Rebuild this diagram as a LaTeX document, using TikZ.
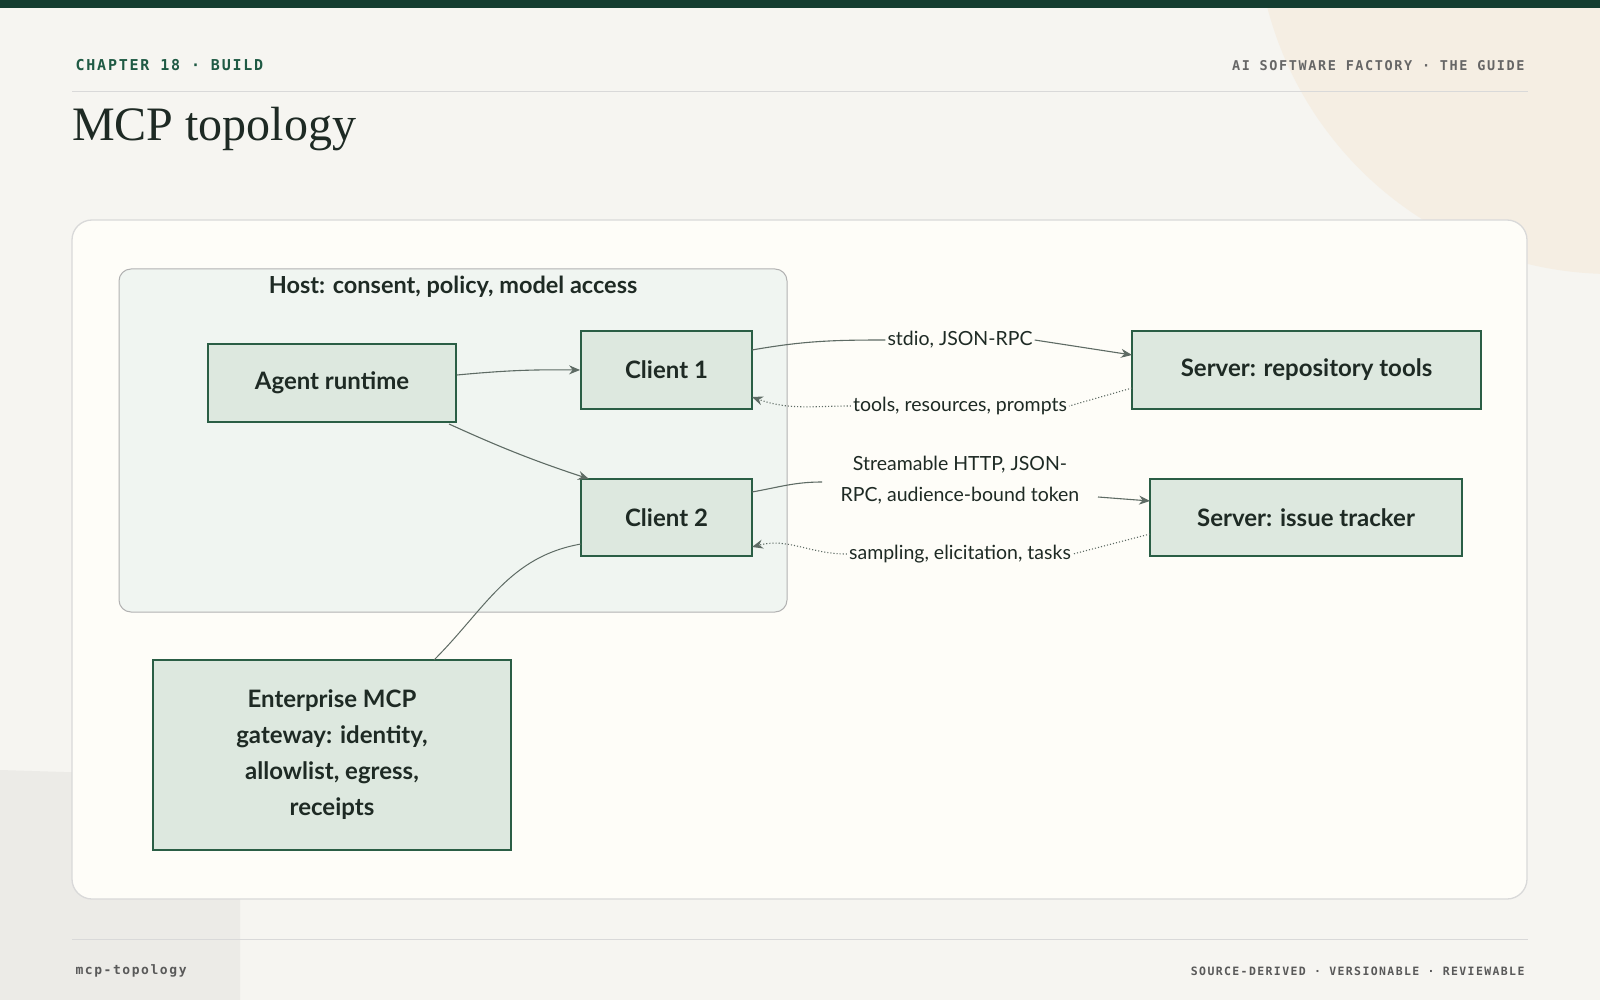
\documentclass[tikz,border=0pt]{standalone}
\usepackage{fontspec}
\setmainfont{Lato}
\newfontfamily\monof[LetterSpace=12]{DejaVu Sans Mono}
\newfontfamily\seriff{Liberation Serif}
\usetikzlibrary{arrows.meta}
\definecolor{bg}{HTML}{F6F5F1}
\definecolor{dkgreen}{HTML}{143D30}
\definecolor{hdr}{HTML}{1F5A44}
\definecolor{nodefill}{HTML}{DDE8DF}
\definecolor{nodeborder}{HTML}{2A5E45}
\definecolor{hostfill}{HTML}{F0F5F1}
\definecolor{panel}{HTML}{FEFDF8}
\definecolor{circ}{HTML}{F5EEE3}
\definecolor{edge}{HTML}{5E6B64}
\definecolor{txt}{HTML}{1E2A24}
\tikzset{
 box/.style={draw=nodeborder,line width=1.8pt,fill=nodefill,font=\fontsize{24}{36}\selectfont\bfseries,text=txt,align=center,inner sep=0},
 conn/.style={draw=edge,line width=1.1pt},
 ret/.style={draw=edge,line width=1.1pt,dotted},
 tip/.style={-{Stealth[length=11pt,width=9pt]}},
 elab/.style={font=\fontsize{19.5}{31}\selectfont,text=txt,fill=panel,inner sep=2pt,align=center},
 mono/.style={font=\monof\fontsize{15}{18}\selectfont\bfseries,text=hdr},
}
\begin{document}
\begin{tikzpicture}[x=1pt,y=-1pt]
\useasboundingbox (0,0) rectangle (1600,1000);
\fill[bg] (0,0) rectangle (1600,1000);
\begin{scope}
\clip (0,0) rectangle (1600,1000);
\fill[circ] (1612,-82) circle (356);
\fill[color=black!4!bg] (0,770) -- (160,775) to[out=0,in=90] (240,850) -- (240,1000) -- (0,1000) -- cycle;
\end{scope}
\fill[dkgreen] (0,0) rectangle (1600,8);
\node[mono,anchor=west] (ch) at (72,65) {CHAPTER 18 · BUILD};
\node[mono,anchor=east,font=\monof\fontsize{13.5}{16}\selectfont\bfseries,text=black!60] (gd) at (1528,66) {AI SOFTWARE FACTORY · THE GUIDE};
\draw[black!15,line width=0.8pt] (72,91) -- (1528,91);
\node[anchor=west,font=\seriff\fontsize{48}{56}\selectfont,text=txt,inner sep=0] (title) at (72,129) {MCP topology};
\draw[draw=black!15,line width=1.3pt,fill=panel,rounded corners=20pt] (72,220) rectangle (1527,899);
\draw[draw=black!30,line width=1pt,fill=hostfill,rounded corners=12pt] (119,269) rectangle (787,612);
\node[font=\fontsize{23.5}{28}\selectfont\bfseries,text=txt] (hostl) at (453,287) {Host: consent, policy, model access};
\node[box,minimum width=248pt,minimum height=78pt] (agent) at (332,383) {Agent runtime};
\node[box,minimum width=171pt,minimum height=78pt] (c1) at (666.5,370) {Client 1};
\node[box,minimum width=171pt,minimum height=77pt] (c2) at (666.5,517.5) {Client 2};
\node[box,minimum width=349pt,minimum height=78pt] (s1) at (1306.5,370) {Server: repository tools};
\node[box,minimum width=312pt,minimum height=77pt] (s2) at (1306,517.5) {Server: issue tracker};
\node[box,minimum width=358pt,minimum height=190pt] (gw) at (332,755) {Enterprise MCP\\gateway: identity,\\allowlist, egress,\\receipts};
\draw[conn,tip] (agent.east) ++(0,-8) to[bend left=3] (c1.west);
\draw[conn,tip] (449,424) to[bend left=-3] (589,479);
\node[elab,fill=none] (l1) at (960,340) {stdio, JSON-RPC};
\draw[conn] (752,350) to[out=10,in=180] (l1.west);
\draw[conn,tip] (l1.east) -- (1132,355);
\node[elab] (l2) at (960,406) {tools, resources, prompts};
\draw[ret] (1132,388) -- (l2.east);
\draw[ret,tip] (l2.west) to[out=180,in=-20] (752,397);
\node[elab] (l3) at (960,480) {Streamable HTTP, JSON-\\RPC, audience-bound token};
\draw[conn] (752,492) to[out=10,in=180] (822,482);
\draw[conn,tip] (1098,497) -- (1150,501);
\node[elab] (l4) at (960,554) {sampling, elicitation, tasks};
\draw[ret] (1150,534) -- (l4.east);
\draw[ret,tip] (l4.west) to[out=180,in=15] (752,547);
\draw[conn,line width=1pt] (434,660) to[out=45,in=190] (581,544);
\draw[black!15,line width=0.8pt] (72,939) -- (1528,939);
\node[mono,anchor=west,font=\monof\fontsize{13}{16}\selectfont\bfseries,text=black!65] (ft) at (72,971) {mcp-topology};
\node[mono,anchor=east,font=\monof\fontsize{11.5}{14}\selectfont\bfseries,text=black!65] (fr) at (1528,971) {SOURCE-DERIVED · VERSIONABLE · REVIEWABLE};
\end{tikzpicture}
\end{document}
